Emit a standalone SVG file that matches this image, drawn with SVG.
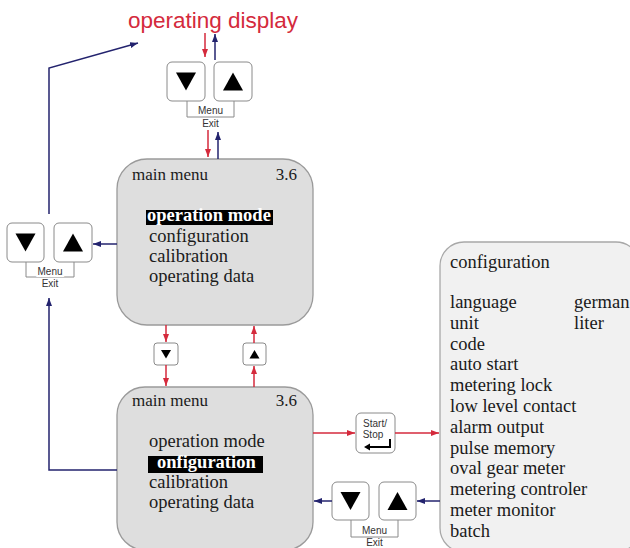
<svg xmlns="http://www.w3.org/2000/svg" width="630" height="548" viewBox="0 0 630 548">
<defs>
<style>
.menu{fill:#dedede;stroke:#9a9a9a;stroke-width:1.3}
.cfg{fill:#f1f1f1;stroke:#a8a8a8;stroke-width:1.3}
.key{fill:#ffffff;stroke:#8a8a8a;stroke-width:1}
.tri{fill:#000000}
.br{fill:none;stroke:#8a8a8a;stroke-width:1}
.lbl{font-family:"Liberation Sans",Arial,sans-serif;font-size:10px;fill:#333;text-anchor:middle}
.halo{paint-order:stroke;stroke:#ffffff;stroke-width:4}
.tm{font-family:"Liberation Serif","Times New Roman",serif;font-size:18.5px;fill:#1a1a1a}
.hd{font-family:"Liberation Serif","Times New Roman",serif;font-size:17px;fill:#1a1a1a}
.hl{font-family:"Liberation Serif","Times New Roman",serif;font-size:18.5px;font-weight:bold;fill:#ffffff}
.red{fill:none;stroke:#d42a3c;stroke-width:1.5;marker-end:url(#ar)}
.blue{fill:none;stroke:#23236e;stroke-width:1.5;marker-end:url(#ab)}
</style>
<marker id="ar" viewBox="0 0 8 6" refX="8" refY="3" markerWidth="8" markerHeight="6" orient="auto" markerUnits="userSpaceOnUse"><path d="M0,0 L8,3 L0,6 z" fill="#d42a3c"/></marker>
<marker id="ab" viewBox="0 0 8 6" refX="8" refY="3" markerWidth="8" markerHeight="6" orient="auto" markerUnits="userSpaceOnUse"><path d="M0,0 L8,3 L0,6 z" fill="#23236e"/></marker>
</defs>
<rect width="630" height="548" fill="#ffffff"/>

<g id="operating-display">
<text x="128" y="28" font-family="Liberation Sans,Arial,sans-serif" font-size="22.5" fill="#d42a3c">operating display</text>
</g>

<g id="keys-top">
<rect class="key" x="167" y="62" width="38" height="39" rx="5"/>
<polygon class="tri" points="176,72.5 196,72.5 186,90.5"/>
<rect class="key" x="214" y="62" width="38" height="39" rx="5"/>
<polygon class="tri" points="223,90.5 243,90.5 233,72.5"/>
<path class="br" d="M187,101 V117 H234 V101"/>
<text class="lbl halo" x="210.5" y="114">Menu</text>
<text class="lbl" x="210.5" y="126.5">Exit</text>
</g>

<g id="keys-left">
<rect class="key" x="7" y="223" width="37" height="39" rx="5"/>
<polygon class="tri" points="15.5,233.5 35.5,233.5 25.5,251.5"/>
<rect class="key" x="54" y="223" width="38" height="39" rx="5"/>
<polygon class="tri" points="63,251.5 83,251.5 73,233.5"/>
<path class="br" d="M26,262 V277 H74 V262"/>
<text class="lbl halo" x="50" y="274.5">Menu</text>
<text class="lbl" x="50" y="286.5">Exit</text>
</g>

<g id="main-menu-1">
<rect class="menu" x="117" y="159" width="196" height="166" rx="30"/>
<text class="hd" x="132" y="180">main menu</text>
<text class="hd" x="297" y="180" text-anchor="end">3.6</text>
<rect x="146" y="210" width="127" height="15" fill="#000"/>
<text class="hl" x="147" y="221">operation mode</text>
<text class="tm" x="149" y="242">configuration</text>
<text class="tm" x="149" y="262">calibration</text>
<text class="tm" x="149" y="282">operating data</text>
</g>

<g id="key-small-down">
<rect class="key" x="154" y="343" width="24" height="22" rx="3"/>
<polygon class="tri" points="161,350 171,350 166,358.5"/>
</g>
<g id="key-small-up">
<rect class="key" x="243" y="343" width="23" height="22" rx="3"/>
<polygon class="tri" points="249.5,358.5 259.5,358.5 254.5,350"/>
</g>

<g id="main-menu-2">
<rect class="menu" x="117" y="387" width="196" height="163" rx="28"/>
<text class="hd" x="132" y="406">main menu</text>
<text class="hd" x="297" y="406" text-anchor="end">3.6</text>
<text class="tm" x="149" y="447">operation mode</text>
<rect x="148" y="456" width="115" height="17" fill="#000"/>
<text class="hl" x="157" y="468">onfiguration</text>
<text class="tm" x="149" y="488">calibration</text>
<text class="tm" x="149" y="508">operating data</text>
</g>

<g id="key-start-stop">
<rect class="key" x="356" y="413" width="39" height="40" rx="5"/>
<text class="lbl" x="375" y="427">Start/</text>
<text class="lbl" x="373" y="438">Stop</text>
<path d="M390,439 V447 H369" fill="none" stroke="#000" stroke-width="2"/>
<polygon points="364,447 370,443.5 370,450.5" fill="#000"/>
</g>

<g id="keys-bottom">
<rect class="key" x="332" y="482" width="37" height="38" rx="5"/>
<polygon class="tri" points="340.5,492 360.5,492 350.5,510"/>
<rect class="key" x="379" y="482" width="37" height="38" rx="5"/>
<polygon class="tri" points="387.5,510 407.5,510 397.5,492"/>
<path class="br" d="M351,520 V537 H398 V520"/>
<text class="lbl halo" x="374.5" y="534">Menu</text>
<text class="lbl" x="374.5" y="546">Exit</text>
</g>

<g id="configuration">
<rect class="cfg" x="440" y="242" width="200" height="310" rx="24"/>
<text class="tm" x="450" y="268">configuration</text>
<text class="tm" x="450" y="308">language</text>
<text class="tm" x="574" y="308">german</text>
<text class="tm" x="450" y="328.8">unit</text>
<text class="tm" x="574" y="328.8">liter</text>
<text class="tm" x="450" y="349.6">code</text>
<text class="tm" x="450" y="370.4">auto start</text>
<text class="tm" x="450" y="391.2">metering lock</text>
<text class="tm" x="450" y="412">low level contact</text>
<text class="tm" x="450" y="432.8">alarm output</text>
<text class="tm" x="450" y="453.6">pulse memory</text>
<text class="tm" x="450" y="474.4">oval gear meter</text>
<text class="tm" x="450" y="495.2">metering controler</text>
<text class="tm" x="450" y="516">meter monitor</text>
<text class="tm" x="450" y="536.8">batch</text>
</g>

<g id="connectors">
<path class="red" d="M205,33 V57"/>
<path class="blue" d="M215,60 V34"/>
<path class="red" d="M208,130 V157"/>
<path class="blue" d="M218,159 V132"/>
<path class="blue" d="M49,214 V68 L138,43"/>
<path class="blue" d="M117,244 H93"/>
<path class="blue" d="M117,470 H49 V298"/>
<path class="red" d="M166,325 V342"/>
<path class="red" d="M166,365 V386"/>
<path class="red" d="M254,387 V366"/>
<path class="red" d="M254,343 V326"/>
<path class="red" d="M313,433 H355"/>
<path class="red" d="M395,433 H439"/>
<path class="blue" d="M440,501 H417"/>
<path class="blue" d="M332,501 H314"/>
</g>
</svg>
